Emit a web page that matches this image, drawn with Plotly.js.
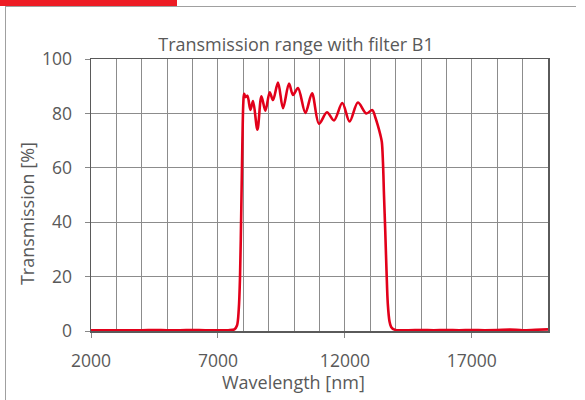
<!DOCTYPE html>
<html>
<head>
<meta charset="utf-8">
<script src="https://cdn.plot.ly/plotly-3.0.1.min.js"></script>
<style>
  html, body { margin: 0; padding: 0; background: #fff; }
  #wrap { position: relative; width: 585px; height: 400px; overflow: hidden; }
  #chart { position: absolute; left: 0; top: 0; width: 585px; height: 400px; }
  #redbar { position: absolute; left: 0; top: 0; width: 177px; height: 6px; background: #ed1c24; z-index: 2; }
  #topline { position: absolute; left: 5px; top: 6px; width: 571px; height: 1px; background: #a0a0a0; z-index: 2; }
  #leftline { position: absolute; left: 5px; top: 6px; width: 1px; height: 394px; background: #a0a0a0; z-index: 2; }
</style>
</head>
<body>
<div id="wrap">
  <div id="chart"></div>
  <div id="redbar"></div>
  <div id="topline"></div>
  <div id="leftline"></div>
</div>
<script>
// Wavelength [nm]
const wavelength = [
  2000, 2500, 3000, 3500, 4000, 4500, 5000, 5500, 6000, 6500, 7000, 7400,
  7650, 7750, 7820, 7870, 7920, 7960, 8000, 8030, 8090, 8160,
  8280, 8383, 8555, 8713, 8870, 9039, 9169, 9366, 9563, 9799, 9957,
  10154, 10445, 10705, 10980, 11295, 11570, 11898, 12185, 12512, 12842,
  13078, 13200, 13300, 13400, 13455, 13500, 13540, 13589, 13640, 13690,
  13758, 13820, 13888, 14000, 14085, 14500, 15000, 15500, 16000, 16500,
  17000, 17500, 18000, 18500, 19000, 19500, 20000
];
// Transmission [%]
const transmission = [
  0.3, 0.3, 0.3, 0.3, 0.3, 0.35, 0.3, 0.3, 0.35, 0.3, 0.3, 0.3,
  0.6, 2, 8, 20, 45, 68, 84, 87.2, 86.0, 86.5,
  81.3, 84.5, 74.0, 86.3, 81.0, 87.8, 84.9, 91.3, 81.9, 91.0, 86.8,
  89.3, 80.2, 87.4, 76.2, 80.4, 77.4, 83.8, 77.0, 84.0, 80.0,
  81.2, 78.5, 75.5, 72.0, 69.5, 62, 50, 37, 22, 10,
  3.5, 1.5, 0.8, 0.4, 0.3, 0.3, 0.35, 0.3, 0.35, 0.3,
  0.35, 0.3, 0.35, 0.5, 0.3, 0.45, 0.6
];
const xTicks = [2000, 7000, 12000, 17000];
const yTicks = [0, 20, 40, 60, 80, 100];
const xTitle = 'Wavelength [nm]';
const yTitle = 'Transmission [%]';

const txt = '#595959';
const fnt = 'Open Sans, sans-serif';

const trace = {
  x: wavelength,
  y: transmission,
  type: 'scatter',
  mode: 'lines',
  line: { color: '#e2001a', width: 2.6, shape: 'spline', smoothing: 0.9 },
  hoverinfo: 'skip'
};

const layout = {
  width: 585,
  height: 400,
  margin: { l: 91, r: 37, t: 59, b: 69 },
  paper_bgcolor: '#fff',
  plot_bgcolor: '#fff',
  showlegend: false,
  font: { family: fnt, color: txt, size: 17.5 },
  title: {
    text: 'Transmission range with filter B1',
    font: { family: fnt, size: 18, color: txt },
    x: 0.506, xref: 'container', xanchor: 'center',
    y: 1 - 45 / 400, yref: 'container', yanchor: 'middle'
  },
  xaxis: {
    range: [2000, 20000],
    tickmode: 'array',
    tickvals: xTicks,
    ticktext: xTicks.map(String),
    ticks: 'outside', ticklen: 5, tickcolor: '#888', tickwidth: 1,
    ticklabelstandoff: 8,
    showgrid: true, gridcolor: '#8c8c8c', gridwidth: 1,
    minor: { dtick: 1000, tick0: 2000, showgrid: true, gridcolor: '#8c8c8c', gridwidth: 1, ticks: '' },
    showline: true, linecolor: '#5a5a5a', linewidth: 1.5, mirror: true,
    zeroline: false,
    tickfont: { family: fnt, size: 17.5, color: txt }
  },
  yaxis: {
    range: [0, 100],
    tickmode: 'array',
    tickvals: yTicks,
    ticktext: yTicks.map(String),
    ticks: 'outside', ticklen: 5, tickcolor: '#888', tickwidth: 1,
    ticklabelstandoff: 9,
    showgrid: true, gridcolor: '#8c8c8c', gridwidth: 1,
    showline: true, linecolor: '#5a5a5a', linewidth: 1.5, mirror: true,
    zeroline: false,
    tickfont: { family: fnt, size: 17.5, color: txt }
  },
  annotations: [
    {
      text: xTitle, showarrow: false,
      xref: 'paper', yref: 'paper', x: 0.443, y: -0.186,
      xanchor: 'center', yanchor: 'middle',
      font: { family: fnt, size: 18, color: txt }
    },
    {
      text: yTitle, showarrow: false, textangle: -90,
      xref: 'paper', yref: 'paper', x: -0.140, y: 0.43,
      xanchor: 'center', yanchor: 'middle',
      font: { family: fnt, size: 18, color: txt }
    }
  ]
};

Plotly.newPlot('chart', [trace], layout, { staticPlot: true, displayModeBar: false });
</script>
</body>
</html>
